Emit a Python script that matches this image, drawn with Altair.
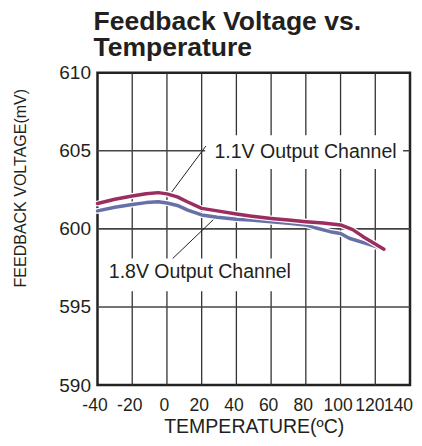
import altair as alt
import pandas as pd

# ---- data ----
temp_11 = [-40, -30, -20, -12, -5, 0, 6, 12, 20, 29, 40, 48, 60, 70, 80, 90, 100, 107, 113, 119, 125]
volt_11 = [601.62, 601.9, 602.1, 602.25, 602.32, 602.24, 602.05, 601.72, 601.31, 601.15, 600.95,
           600.82, 600.67, 600.56, 600.46, 600.38, 600.25, 599.95, 599.5, 599.1, 598.7]
temp_18 = [-40, -30, -20, -12, -5, 0, 6, 12, 20, 29, 40, 48, 60, 70, 80, 86, 94, 100, 105, 115, 125]
volt_18 = [601.15, 601.38, 601.56, 601.68, 601.74, 601.66, 601.5, 601.2, 600.89, 600.74, 600.61,
           600.56, 600.46, 600.36, 600.25, 600.05, 599.82, 599.7, 599.4, 599.05, 598.7]

x_ticks = [-40, -20, 0, 20, 40, 60, 80, 100, 120, 140]
y_ticks = [590, 595, 600, 605, 610]
grid_x = [-20, 0, 20, 40, 60, 80, 100, 120]
grid_y = [595, 600, 605]

label_text = ["1.1V Output Channel", "1.8V Output Channel"]
label_x = [27.4, -33.5]
label_y = [604.9, 597.26]
box_x = [22.0, -39.0]
box_x2 = [136.0, 71.0]
box_y = [603.83, 596.0]
box_y2 = [606.0, 598.1]
lead_x = [22.4, 3.3]
lead_y = [605.3, 598.1]
lead_x2 = [1.7, 28.7]
lead_y2 = [602.2, 600.8]

MAROON = "#9B2D5F"
BLUE = "#6870A8"
FONT = "Liberation Sans"
TXT = "#231f20"

df18 = pd.DataFrame({"t": temp_18, "v": volt_18})
df11 = pd.DataFrame({"t": temp_11, "v": volt_11})
gx = pd.DataFrame({"t": grid_x})
gy = pd.DataFrame({"v": grid_y})
boxes = pd.DataFrame({"t": box_x, "t2": box_x2, "v": box_y, "v2": box_y2})
leads = pd.DataFrame({"t": lead_x, "t2": lead_x2, "v": lead_y, "v2": lead_y2})
labels = pd.DataFrame({"t": label_x, "v": label_y, "text": label_text})

xs = alt.Scale(domain=[-40, 140], nice=False, zero=False)
ys = alt.Scale(domain=[590, 610], nice=False, zero=False)

xaxis = alt.Axis(values=x_ticks, title="TEMPERATURE(ºC)", grid=False, ticks=False, domain=False,
                 labelFontSize=17.5, labelPadding=11, labelOverlap=False, labelFlush=False,
                 labelExpr="datum.value + ''",
                 labelOffset={"condition": [{"test": "datum.value == 140", "value": -12},
                                            {"test": "datum.value == 120", "value": -6}],
                              "value": -3},
                 labelColor=TXT, labelFont=FONT, titleFont=FONT, titleFontSize=19.5,
                 titleFontWeight="normal", titleColor=TXT, titlePadding=4)
yaxis = alt.Axis(values=y_ticks, title="FEEDBACK VOLTAGE(mV)", grid=False, ticks=False, domain=False,
                 labelFontSize=19, labelPadding=7, labelFlush=False, labelColor=TXT, labelFont=FONT,
                 titleFont=FONT, titleFontSize=16, titleFontWeight="normal", titleColor=TXT,
                 titleAngle=270, titleX=-77, titleY=115, titleAlign="center", titleBaseline="middle")

X = alt.X("t:Q", scale=xs, axis=xaxis)
Y = alt.Y("v:Q", scale=ys, axis=yaxis)

vgrid = alt.Chart(gx).mark_rule(color="#333", strokeWidth=1.3).encode(x=X)
hgrid = alt.Chart(gy).mark_rule(color="#444", strokeWidth=1.6).encode(y=Y)
box = alt.Chart(boxes).mark_rect(fill="white").encode(x=X, x2="t2", y=Y, y2="v2")
lead = alt.Chart(leads).mark_rule(color="#222", strokeWidth=1).encode(x=X, x2="t2", y=Y, y2="v2")

def line(df, color, w):
    return alt.Chart(df).mark_line(color=color, strokeWidth=w, strokeJoin="round",
                                   strokeCap="round").encode(x=X, y=Y)

txt = alt.Chart(labels).mark_text(align="left", baseline="middle", fontSize=19.5, font=FONT,
                                  color=TXT).encode(x=X, y=Y, text="text:N")

chart = alt.layer(
    vgrid, hgrid, box, lead,
    line(df18, "white", 6), line(df18, BLUE, 3.5),
    line(df11, "white", 6), line(df11, MAROON, 3.5),
    txt,
).properties(
    width=312.5, height=312.3,
    title=alt.TitleParams(["Feedback Voltage vs.", "Temperature"], fontSize=26.5, font=FONT,
                          fontWeight="bold", color=TXT, anchor="start", frame="group",
                          lineHeight=26, offset=2, dx=-4),
    autosize=alt.AutoSizeParams(type="none"),
    padding={"left": 89.5, "top": 64.7, "right": 4, "bottom": 60},
).configure_view(stroke="#222", strokeWidth=2.5).configure_axis(labelOverlap=False)

chart.save("out.html", embed_options={"renderer": "svg", "actions": False})
